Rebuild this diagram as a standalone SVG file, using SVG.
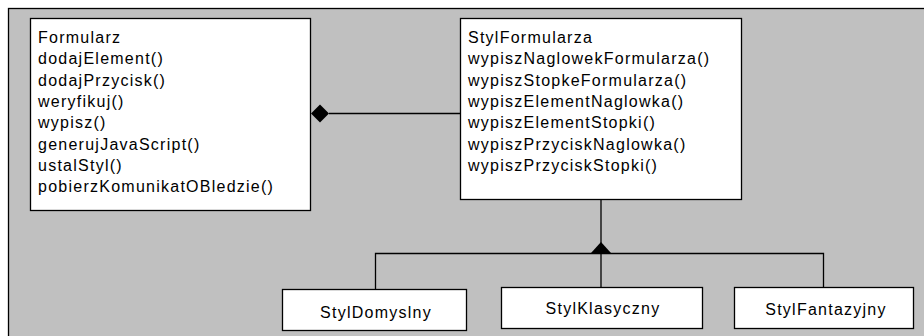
<svg xmlns="http://www.w3.org/2000/svg" width="924" height="336" viewBox="0 0 924 336">
  <style>
    .box { fill: #ffffff; stroke: #000000; stroke-width: 1.3; }
    .t { font-family: "Liberation Sans", Arial, sans-serif; font-size: 16px; letter-spacing: 1.25px; fill: #000000; }
    .c { text-anchor: middle; }
    .ln { fill: none; stroke: #000000; stroke-width: 1.3; }
  </style>
  <rect width="924" height="336" fill="#ffffff"/>
  <!-- frame -->
  <rect x="8.5" y="8.5" width="930" height="340" fill="#c0c0c0" stroke="#000000" stroke-width="1.3"/>

  <g id="connectors">
    <!-- composition Formularz <>- StylFormularza -->
    <line class="ln" x1="329" y1="113.5" x2="460" y2="113.5"/>
    <polygon points="311,113.5 320,104.5 329,113.5 320,122.5" fill="#000000"/>
    <!-- inheritance tree -->
    <line class="ln" x1="601" y1="200" x2="601" y2="287"/>
    <polygon points="601,242 611,253 591,253" fill="#000000"/>
    <polyline class="ln" points="375.5,289 375.5,253.5 823.5,253.5 823.5,287"/>
  </g>

  <g id="Formularz">
    <rect class="box" x="30.5" y="18.5" width="280" height="192"/>
    <text class="t" x="38" y="43">Formularz</text>
    <text class="t" x="38" y="64.3">dodajElement()</text>
    <text class="t" x="38" y="85.6">dodajPrzycisk()</text>
    <text class="t" x="38" y="107">weryfikuj()</text>
    <text class="t" x="38" y="128.3">wypisz()</text>
    <text class="t" x="38" y="149.6">generujJavaScript()</text>
    <text class="t" x="38" y="171">ustalStyl()</text>
    <text class="t" x="38" y="192.3">pobierzKomunikatOBledzie()</text>
  </g>

  <g id="StylFormularza">
    <rect class="box" x="460.5" y="18.5" width="281" height="181"/>
    <text class="t" x="468" y="43">StylFormularza</text>
    <text class="t" x="468" y="64.3">wypiszNaglowekFormularza()</text>
    <text class="t" x="468" y="85.6">wypiszStopkeFormularza()</text>
    <text class="t" x="468" y="107">wypiszElementNaglowka()</text>
    <text class="t" x="468" y="128.3">wypiszElementStopki()</text>
    <text class="t" x="468" y="149.6">wypiszPrzyciskNaglowka()</text>
    <text class="t" x="468" y="171">wypiszPrzyciskStopki()</text>
  </g>

  <g id="StylDomyslny">
    <rect class="box" x="282.5" y="289.5" width="184" height="41"/>
    <text class="t c" x="376" y="318">StylDomyslny</text>
  </g>

  <g id="StylKlasyczny">
    <rect class="box" x="501.5" y="287.5" width="201" height="41"/>
    <text class="t c" x="603" y="314">StylKlasyczny</text>
  </g>

  <g id="StylFantazyjny">
    <rect class="box" x="734.5" y="287.5" width="179" height="41"/>
    <text class="t c" x="826" y="315">StylFantazyjny</text>
  </g>
</svg>
